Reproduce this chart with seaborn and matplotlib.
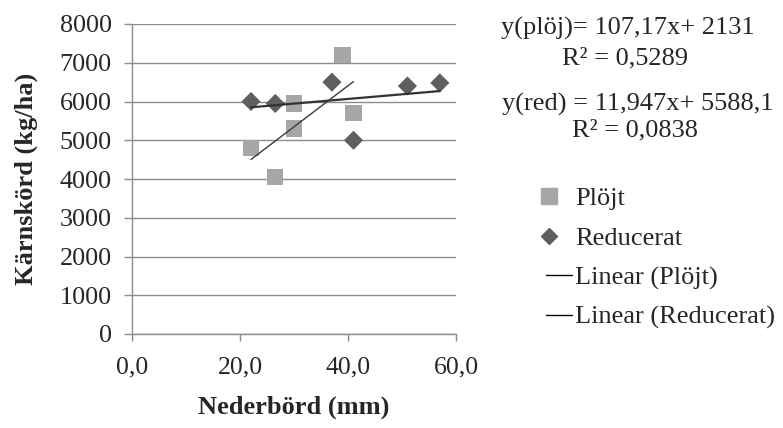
import matplotlib
matplotlib.use("Agg")
import matplotlib.pyplot as plt
import seaborn as sns
import pandas as pd
import numpy as np
from matplotlib.lines import Line2D
from matplotlib.legend_handler import HandlerLine2D

# ---- data ----
plojt_x = [22, 26.5, 30, 30, 39, 41]
plojt_y = [4800, 4050, 5950, 5300, 7200, 5700]
red_x = [22, 26.5, 37, 41, 51, 57]
red_y = [6000, 5950, 6500, 5000, 6400, 6480]

x_ticks = [0, 20, 40, 60]
x_ticklabels = ["0,0", "20,0", "40,0", "60,0"]
y_ticks = [0, 1000, 2000, 3000, 4000, 5000, 6000, 7000, 8000]

eq_texts = ["y(plöj)= 107,17x+ 2131", "R² = 0,5289",
            "y(red) = 11,947x+ 5588,1", "R² = 0,0838"]
legend_labels = ["Plöjt", "Reducerat", "Linear (Plöjt)", "Linear (Reducerat)"]

sns.set_theme(style="white")
plt.rcParams['font.family'] = ['Liberation Serif', 'DejaVu Serif']

FS = 19

df_p = pd.DataFrame({"x": plojt_x, "y": plojt_y})
df_r = pd.DataFrame({"x": red_x, "y": red_y})

fig = plt.figure(figsize=(7.83, 4.28), dpi=100)
ax = fig.add_axes([132.3 / 783, 1 - 334 / 428, (456 - 132.3) / 783, (334 - 24) / 428])

grid_c = "#8c8c8c"
sq_c = "#a6a6a6"
dm_c = "#5f5f5f"

sns.scatterplot(data=df_p, x="x", y="y", marker="s", s=140, color=sq_c,
                edgecolor="none", ax=ax, zorder=3)
sns.scatterplot(data=df_r, x="x", y="y", marker="D", s=95, color=dm_c,
                edgecolor="none", ax=ax, zorder=3)
sns.regplot(data=df_p, x="x", y="y", scatter=False, ci=None, truncate=True,
            line_kws=dict(color="#3a3a3a", lw=1.0, zorder=4), ax=ax)
sns.regplot(data=df_r, x="x", y="y", scatter=False, ci=None, truncate=True,
            line_kws=dict(color="#333333", lw=1.6, zorder=4), ax=ax)

ax.set_xlim(0, 60)
ax.set_ylim(0, 8000)
ax.set_xticks(x_ticks)
ax.set_xticklabels(x_ticklabels)
ax.set_yticks(y_ticks)
ax.set_yticklabels([str(v) for v in y_ticks])
ax.yaxis.grid(True, color=grid_c, lw=1.0)
ax.set_axisbelow(True)
for s in ["top", "right"]:
    ax.spines[s].set_visible(False)
for s in ["left", "bottom"]:
    ax.spines[s].set_color(grid_c)
    ax.spines[s].set_linewidth(1.0)
ax.tick_params(axis="y", length=5.8, width=1.0, color=grid_c, pad=9,
               labelsize=FS - 0.2, left=True, direction="out")
ax.tick_params(axis="x", length=5, width=1.0, color=grid_c, pad=11,
               labelsize=FS - 0.5, bottom=True, direction="out")

ax.set_xlabel("Nederbörd (mm)", fontsize=FS, fontweight="bold")
ax.set_ylabel("Kärnskörd (kg/ha)", fontsize=FS, fontweight="bold")
ax.xaxis.set_label_coords(0.5, -(407 - 334) / 310)
ax.yaxis.set_label_coords(-(132.3 - 26) / 323.7, 0.5)
ax.xaxis.label.set_va("center")
ax.yaxis.label.set_va("center")

# equation texts
fig.text(628 / 783, 1 - 28 / 428, eq_texts[0], ha="center", va="center", fontsize=FS)
fig.text(625 / 783, 1 - 58 / 428, eq_texts[1], ha="center", va="center", fontsize=FS)
fig.text(638 / 783, 1 - 104 / 428, eq_texts[2], ha="center", va="center", fontsize=FS)
fig.text(635 / 783, 1 - 130 / 428, eq_texts[3], ha="center", va="center", fontsize=FS)


class LeftMarkerHandler(HandlerLine2D):
    """Place the single legend marker near the left end of the handle."""
    def get_xdata(self, legend, xdescent, ydescent, width, height, fontsize):
        a = -xdescent - 0.76 * width
        b = -xdescent + width
        return np.array([a, b]), np.array([(a + b) / 2])


handles = [
    Line2D([], [], marker="s", ls="none", color=sq_c, markersize=11),
    Line2D([], [], marker="D", ls="none", color=dm_c, markersize=8),
    Line2D([], [], color="black", lw=1.0),
    Line2D([], [], color="black", lw=1.0),
]
fig.legend(handles, legend_labels, loc="upper left",
           bbox_to_anchor=(546 / 783, 1 - 187 / 428), frameon=False,
           fontsize=FS, handlelength=1.0, handletextpad=0.1,
           labelspacing=0.6, borderpad=0, borderaxespad=0,
           handler_map={handles[0]: LeftMarkerHandler(),
                        handles[1]: LeftMarkerHandler()})

fig.savefig("out.png", dpi=100)
